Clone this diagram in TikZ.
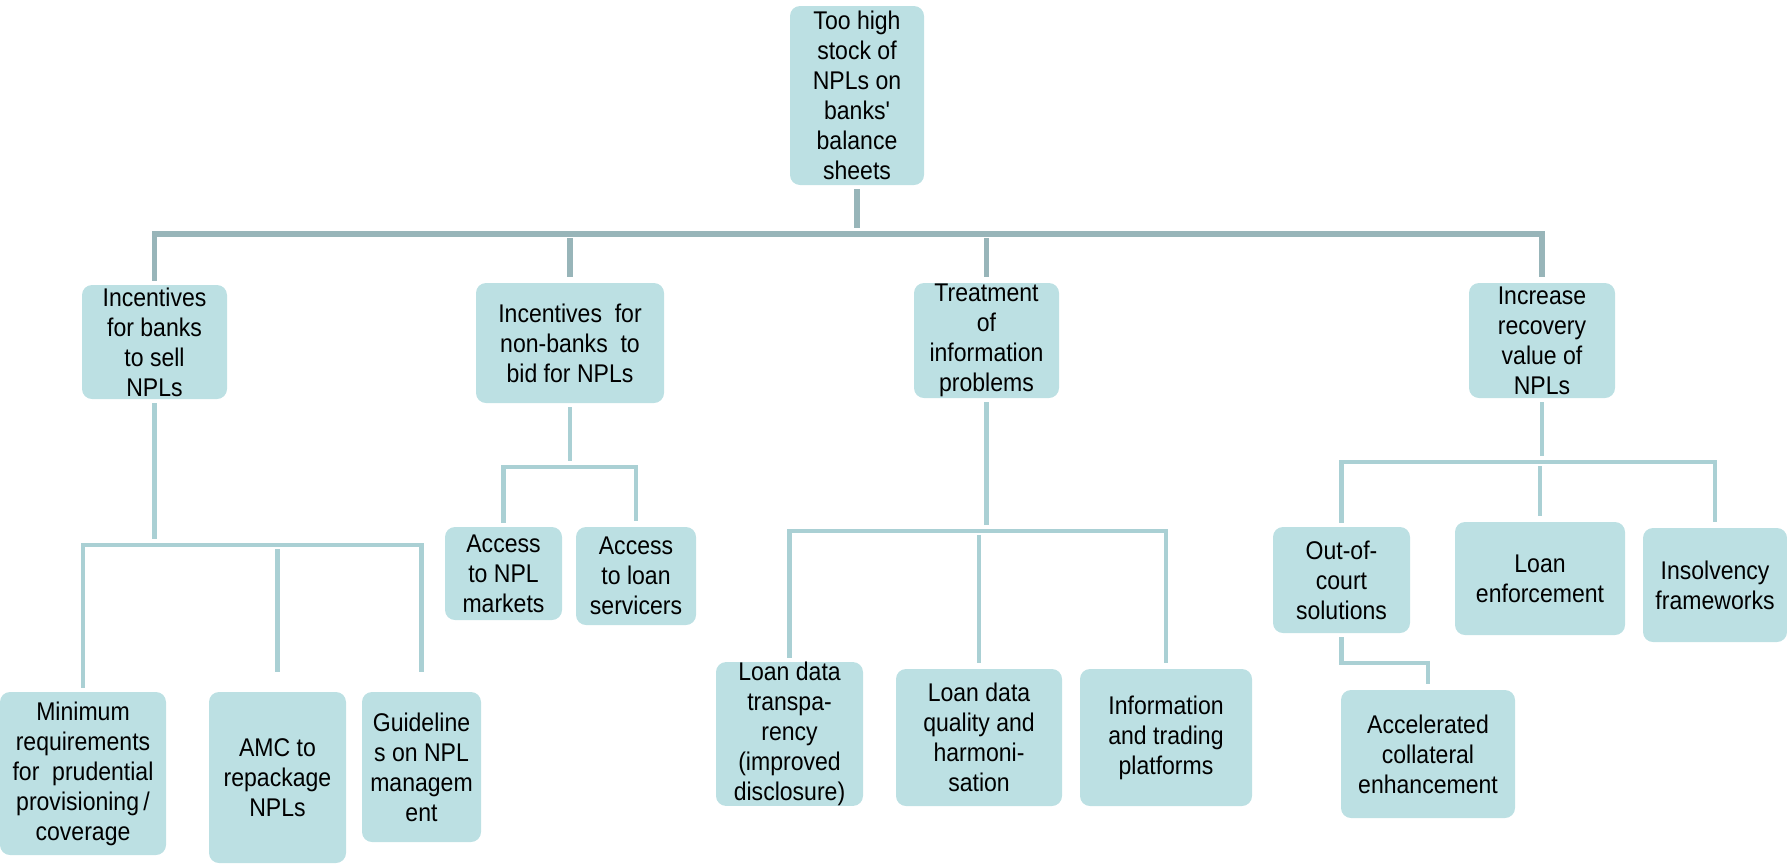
\documentclass[tikz,border=0pt]{standalone}
\usepackage{fontspec}
\setmainfont{Liberation Sans}[FakeStretch=0.9, Ligatures=TeXOff]
\usepackage{tikz}
\usepackage{color}

\definecolor{boxfill}{RGB}{188,224,227}
\definecolor{buscol}{RGB}{152,181,185}
\definecolor{linkcol}{RGB}{170,208,212}

\tikzset{
  box/.style={fill=boxfill, rounded corners=5pt, align=center, inner sep=0pt,
    font=\fontsize{12.8}{15}\selectfont},
  bus/.style={draw=buscol, line width=2.8pt, shorten <=2pt, shorten >=3pt},
  link/.style={draw=linkcol, line width=2.4pt, shorten <=2pt, shorten >=3pt}
}

\begin{document}
\begin{tikzpicture}[x=0.5pt,y=-0.5pt]
\useasboundingbox (0,0) rectangle (1787,863);
% top and first level
\node[box, minimum width=67pt, minimum height=89.5pt] (top) at (857,95.5)
  {Too high\\stock of\\NPLs on\\banks'\\balance\\sheets};
\node[box, minimum width=72.5pt, minimum height=57pt] (banks) at (154.5,342)
  {Incentives\\for banks\\to sell\\NPLs};
\node[box, minimum width=94pt, minimum height=60pt] (nonbanks) at (570,343)
  {Incentives\ \ for\\non-banks\ \ to\\bid for NPLs};
\node[box, minimum width=72.5pt, minimum height=57.5pt] (treat) at (986.5,340.5)
  {Treatment\\of\\information\\problems};
\node[box, minimum width=73pt, minimum height=57.5pt] (recov) at (1542,340.5)
  {Increase\\recovery\\value of\\NPLs};
% second level
\node[box, minimum width=83pt, minimum height=81.5pt] (minreq) at (83,773.5)
  {Minimum\\requirements\\for\ \ prudential\\provisioning\,/\\coverage};
\node[box, minimum width=68.5pt, minimum height=85.5pt] (amc) at (277.5,777.5)
  {AMC to\\repackage\\NPLs};
\node[box, minimum width=59.5pt, minimum height=75pt] (guide) at (421.5,767)
  {Guideline\\s on NPL\\managem\\ent};
\node[box, minimum width=58.5pt, minimum height=46.5pt] (accnpl) at (503.5,573.5)
  {Access\\to NPL\\markets};
\node[box, minimum width=60pt, minimum height=49pt] (accloan) at (636,576)
  {Access\\to loan\\servicers};
\node[box, minimum width=73.5pt, minimum height=67pt] (transp) at (789.5,734)
  {Loan data\\transpa-\\rency\\(improved\\disclosure)};
\node[box, minimum width=83pt, minimum height=68.5pt] (quality) at (979,737.5)
  {Loan data\\quality and\\harmoni-\\sation};
\node[box, minimum width=86pt, minimum height=68.5pt] (info) at (1166,737.5)
  {Information\\and trading\\platforms};
\node[box, minimum width=68.5pt, minimum height=53pt] (outcourt) at (1341.5,580)
  {Out-of-\\court\\solutions};
\node[box, minimum width=85pt, minimum height=56.5pt] (enforce) at (1540,578.5)
  {Loan\\enforcement};
\node[box, minimum width=72pt, minimum height=57pt] (insolv) at (1715,585)
  {Insolvency\\frameworks};
\node[box, minimum width=87pt, minimum height=64pt] (accel) at (1428,754)
  {Accelerated\\collateral\\enhancement};
% bus heights
\coordinate (b0) at (0,234);
\coordinate (b1) at (0,545);
\coordinate (b2) at (0,467);
\coordinate (b3) at (0,531);
\coordinate (b4) at (0,462);
\coordinate (b5) at (0,663);
% connectors
\draw[bus] (top.south) -- (top.south |- b0);
\draw[bus] (banks.north) -- (banks.north |- b0) -- (recov.north |- b0) -- (recov.north);
\draw[bus] (nonbanks.north |- b0) -- (nonbanks.north);
\draw[bus] (treat.north |- b0) -- (treat.north);
\draw[link] (banks.south) -- (banks.south |- b1);
\draw[link, shorten >=10pt] (minreq.north) -- (minreq.north |- b1) -- (guide.north |- b1) -- (guide.north);
\draw[link, shorten >=10pt] (amc.north |- b1) -- (amc.north);
\draw[link] (nonbanks.south) -- (nonbanks.south |- b2);
\draw[link] (accnpl.north) -- (accnpl.north |- b2) -- (accloan.north |- b2) -- (accloan.north);
\draw[link] (treat.south) -- (treat.south |- b3);
\draw[link] (transp.north) -- (transp.north |- b3) -- (info.north |- b3) -- (info.north);
\draw[link] (quality.north |- b3) -- (quality.north);
\draw[link] (recov.south) -- (recov.south |- b4);
\draw[link] (outcourt.north) -- (outcourt.north |- b4) -- (insolv.north |- b4) -- (insolv.north);
\draw[link] (enforce.north |- b4) -- (enforce.north);
\draw[link] (outcourt.south) -- (outcourt.south |- b5) -| (accel.north);
\end{tikzpicture}
\end{document}
